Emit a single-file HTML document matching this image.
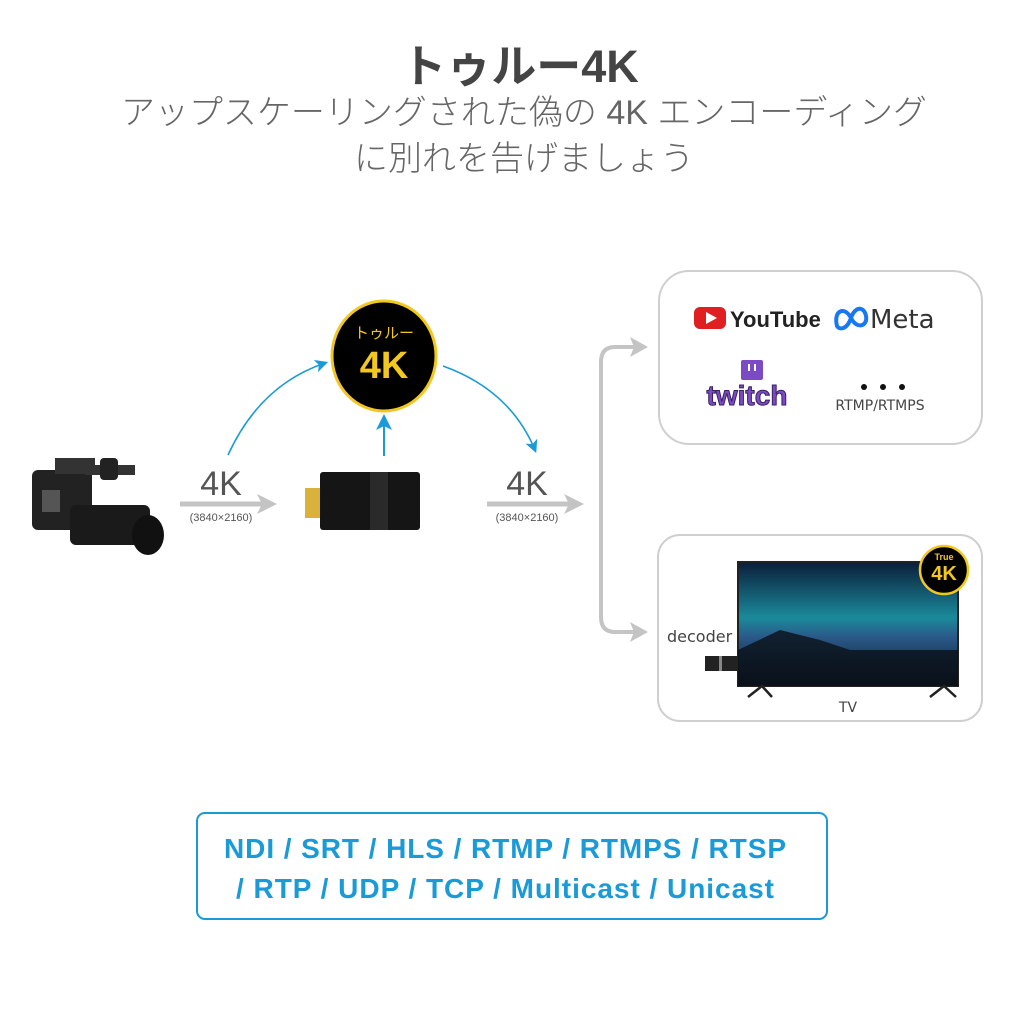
<!DOCTYPE html>
<html><head><meta charset="utf-8"><style>
body{margin:0;width:1024px;height:1024px;background:#fff;position:relative;overflow:hidden;font-family:"Liberation Sans","Noto Sans CJK JP",sans-serif}
.a{position:absolute}
</style></head><body>
<div class="a" style="left:0;width:1040px;top:30px;text-align:center;font-size:45px;font-weight:bold;color:#444">トゥルー4K</div>
<div class="a" style="left:0;width:1048px;top:90px;text-align:center;font-size:34px;color:#666;line-height:46px;font-weight:300">アップスケーリングされた偽の 4K エンコーディング<br>に別れを告げましょう</div>

<svg class="a" style="left:0;top:0" width="1024" height="1024">
<defs>
<marker id="b" markerWidth="8" markerHeight="8" refX="6" refY="4" orient="auto" markerUnits="strokeWidth"><path d="M0,0 L8,4 L0,8 L2,4z" fill="#1a9ad6"/></marker>
<marker id="g" markerWidth="4" markerHeight="4" refX="3" refY="2" orient="auto" markerUnits="strokeWidth"><path d="M0,0 L4,2 L0,4 L1,2z" fill="#c4c4c4"/></marker>
<linearGradient id="sky" x1="0" y1="0" x2="0" y2="1"><stop offset="0" stop-color="#0b1d3a"/><stop offset=".45" stop-color="#1a8a9a"/><stop offset=".6" stop-color="#2a5a8a"/><stop offset="1" stop-color="#0c1422"/></linearGradient>
</defs>
<path d="M228,455 Q260,385 325,363" fill="none" stroke="#1a9ad6" stroke-width="1.6" marker-end="url(#b)"/>
<path d="M443,366 Q510,390 535,450" fill="none" stroke="#1a9ad6" stroke-width="1.6" marker-end="url(#b)"/>
<path d="M384,456 L384,418" fill="none" stroke="#1a9ad6" stroke-width="2" marker-end="url(#b)"/>
<path d="M180,504 L272,504" stroke="#c4c4c4" stroke-width="5" marker-end="url(#g)"/>
<path d="M487,504 L579,504" stroke="#c4c4c4" stroke-width="5" marker-end="url(#g)"/>
<path d="M642,347 L615,347 Q601,347 601,362 L601,617 Q601,632 615,632 L642,632" fill="none" stroke="#c4c4c4" stroke-width="4"/>
<path d="M630,337 L648,347 L630,357 L634,347z" fill="#c4c4c4"/>
<path d="M630,622 L648,632 L630,642 L634,632z" fill="#c4c4c4"/>
<ellipse cx="384" cy="356" rx="52" ry="55" fill="#000" stroke="#f3c81e" stroke-width="3"/>
<text x="384" y="338" fill="#f3c81e" font-size="15" text-anchor="middle" font-family="Noto Sans CJK JP,sans-serif">トゥルー</text>
<text x="384" y="378" fill="#f3c81e" font-size="38" font-weight="bold" text-anchor="middle" font-family="Liberation Sans,sans-serif">4K</text>
<g fill="#222">
<rect x="32" y="470" width="60" height="60" rx="6"/>
<rect x="55" y="458" width="40" height="16" fill="#333"/>
<rect x="85" y="465" width="50" height="10" fill="#333"/>
<rect x="100" y="458" width="18" height="22" rx="4"/>
<rect x="70" y="505" width="80" height="40" rx="6" fill="#1a1a1a"/>
<ellipse cx="148" cy="535" rx="16" ry="20" fill="#111"/>
<rect x="42" y="490" width="18" height="22" fill="#555"/>
</g>
<rect x="305" y="488" width="18" height="30" fill="#d8b23a"/>
<rect x="320" y="472" width="100" height="58" rx="3" fill="#151515"/>
<rect x="370" y="472" width="18" height="58" fill="#2a2a2a"/>
<rect x="659" y="271" width="323" height="173" rx="30" fill="#fff" stroke="#cfcfcf" stroke-width="2"/>
<rect x="658" y="535" width="324" height="186" rx="22" fill="#fff" stroke="#cfcfcf" stroke-width="2"/>
<rect x="694" y="307" width="32" height="22" rx="6" fill="#e02020"/>
<path d="M706,312 L717,318 L706,324z" fill="#fff"/>
<text x="730" y="327" font-size="22" font-weight="bold" fill="#222" font-family="Liberation Sans Narrow,sans-serif">YouTube</text>
<path d="M837,326 C833,310 845,306 851,318 C857,330 868,326 866,316 C864,306 855,306 851,318 C847,330 839,330 837,326z" fill="none" stroke="#1778f2" stroke-width="4"/>
<text x="870" y="328" font-size="26" fill="#333" font-family="DejaVu Sans,sans-serif">Meta</text>
<rect x="741" y="360" width="22" height="20" rx="2" fill="#7b4bc6"/>
<rect x="748" y="364" width="2" height="7" fill="#fff"/><rect x="754" y="364" width="2" height="7" fill="#fff"/>
<text x="747" y="405" font-size="28" font-weight="bold" fill="#7b4bc6" text-anchor="middle" stroke="#3a2060" stroke-width="1" font-family="Liberation Sans,sans-serif">twitch</text>
<circle cx="864" cy="387" r="3" fill="#111"/><circle cx="883" cy="387" r="3" fill="#111"/><circle cx="902" cy="387" r="3" fill="#111"/>
<text x="880" y="410" font-size="14" fill="#444" text-anchor="middle" font-family="DejaVu Sans,sans-serif">RTMP/RTMPS</text>
<rect x="738" y="562" width="220" height="124" fill="url(#sky)" stroke="#222" stroke-width="2"/>
<path d="M738,650 L780,630 L820,640 L850,650 L958,650 L958,686 L738,686z" fill="#0a1018" opacity=".8"/>
<path d="M748,697 L762,686 L772,697" stroke="#222" stroke-width="2.5" fill="none"/>
<path d="M930,697 L944,686 L956,697" stroke="#222" stroke-width="2.5" fill="none"/>
<circle cx="944" cy="570" r="24" fill="#000" stroke="#f3c81e" stroke-width="2.5"/>
<text x="944" y="560" font-size="9" font-weight="bold" fill="#f3c81e" text-anchor="middle" font-family="Liberation Sans,sans-serif">True</text>
<text x="944" y="580" font-size="20" font-weight="bold" fill="#f3c81e" text-anchor="middle" font-family="Liberation Sans,sans-serif">4K</text>
<rect x="705" y="656" width="32" height="15" fill="#222"/><rect x="719" y="656" width="3" height="15" fill="#888"/>
<text x="667" y="642" font-size="16" fill="#444" font-family="DejaVu Sans,sans-serif">decoder</text>
<text x="848" y="712" font-size="14" fill="#444" text-anchor="middle" font-family="DejaVu Sans,sans-serif">TV</text>
<text x="221" y="495" font-size="34" fill="#555" text-anchor="middle" font-family="Liberation Sans,sans-serif">4K</text>
<text x="221" y="521" font-size="11" fill="#555" text-anchor="middle" font-family="Liberation Sans,sans-serif">(3840×2160)</text>
<text x="527" y="495" font-size="34" fill="#555" text-anchor="middle" font-family="Liberation Sans,sans-serif">4K</text>
<text x="527" y="521" font-size="11" fill="#555" text-anchor="middle" font-family="Liberation Sans,sans-serif">(3840×2160)</text>
<rect x="197" y="813" width="630" height="106" rx="8" fill="none" stroke="#1a9ad6" stroke-width="2"/>
<text x="505" y="858" font-size="28" font-weight="bold" fill="#1a9ad6" text-anchor="middle" textLength="562" font-family="Liberation Sans,sans-serif">NDI / SRT / HLS / RTMP / RTMPS / RTSP</text>
<text x="505" y="898" font-size="28" font-weight="bold" fill="#1a9ad6" text-anchor="middle" textLength="538" font-family="Liberation Sans,sans-serif">/ RTP / UDP / TCP / Multicast / Unicast</text>
</svg>
</body></html>
